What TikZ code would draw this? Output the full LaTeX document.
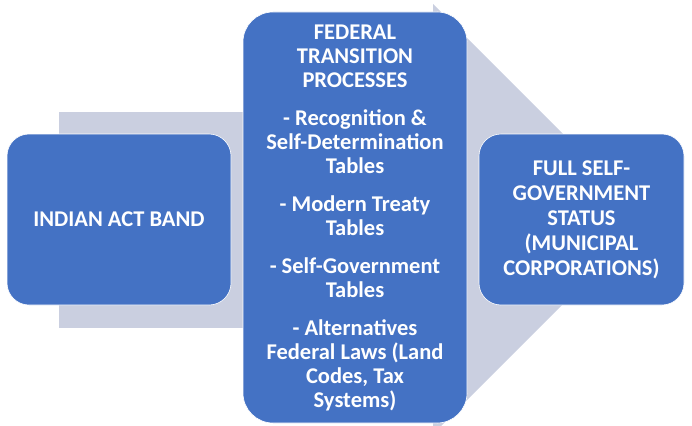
\documentclass[tikz,border=0pt]{standalone}
\usepackage{fontspec}
\setmainfont{Carlito}
\usepackage{tikz}

\definecolor{boxblue}{HTML}{4472C4}
\definecolor{bandgray}{HTML}{CACFE0}

\begin{document}
\begin{tikzpicture}[x=1pt,y=-1pt,
    box/.style={draw=white, line width=0.6pt, fill=boxblue, rounded corners=22pt, align=center,
        text=white, font=\fontsize{22.5}{24}\selectfont\bfseries, inner sep=0pt}]
    \useasboundingbox (0,0) rectangle (692,425);
    % background arrow
    \fill[bandgray] (59,112) rectangle (433,328);
    \fill[bandgray] (433,4) -- (648,219) -- (433,434) -- cycle;
    \node[box, minimum width=224pt, minimum height=171pt] (band) at (119,219.5) {INDIAN ACT BAND};
    \node[box, rounded corners=30pt, minimum width=224pt, minimum height=411pt] (federal) at (355,217.5)
        {FEDERAL\\TRANSITION\\PROCESSES\\[14pt]
         - Recognition \&\\Self-Determination\\Tables\\[14pt]
         - Modern Treaty\\Tables\\[14pt]
         - Self-Government\\Tables\\[14pt]
         - Alternatives\\Federal Laws (Land\\Codes, Tax\\Systems)};
    \node[box, minimum width=205pt, minimum height=171pt,
        font=\fontsize{22.5}{25}\selectfont\bfseries] (status) at (581.5,219.5)
        {FULL SELF-\\GOVERNMENT\\STATUS\\(MUNICIPAL\\CORPORATIONS)};
\end{tikzpicture}
\end{document}
